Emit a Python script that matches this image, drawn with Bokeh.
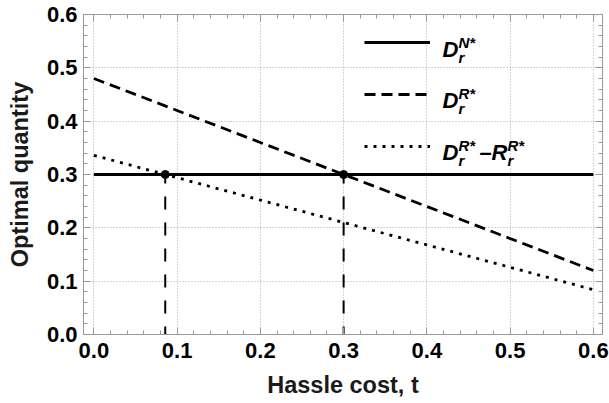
from bokeh.plotting import figure
from bokeh.models import (Range1d, FixedTicker, LinearAxis, Legend, LegendItem,
                          Label, CustomJSTickFormatter)
from bokeh.embed import file_html
from bokeh.resources import INLINE

# ---- data ----
t_vals = [0.0, 0.6]
d_N = [0.3, 0.3]            # D_r^{N*}
d_R = [0.48, 0.12]          # D_r^{R*}
d_R_minus_R = [0.336, 0.084]  # D_r^{R*} - R_r^{R*}
cross_t = [0.0857, 0.3]
cross_y = [0.3, 0.3]

x_ticks = [0.0, 0.1, 0.2, 0.3, 0.4, 0.5, 0.6]
x_tick_labels = ["0.0", "0.1", "0.2", "0.3", "0.4", "0.5", "0.6"]
y_ticks = [0.0, 0.1, 0.2, 0.3, 0.4, 0.5, 0.6]
y_tick_labels = ["0.0", "0.1", "0.2", "0.3", "0.4", "0.5", "0.6"]

FONT = "Liberation Sans"
AX = "#999999"

p = figure(width=609, height=403, output_backend="svg", toolbar_location=None,
           x_range=Range1d(-0.0125, 0.611), y_range=Range1d(0.0, 0.6),
           min_border_left=83, min_border_right=7, min_border_top=14, min_border_bottom=69,
           x_axis_label="Hassle cost, t", y_axis_label="Optimal quantity")
p.outline_line_color = AX
p.background_fill_color = "white"

minor_x = [round(i * 0.02, 2) for i in range(0, 31)]
minor_y = [round(i * 0.02, 2) for i in range(0, 31)]

for ax, ticks, labels, minor in ((p.xaxis[0], x_ticks, x_tick_labels, minor_x),
                                 (p.yaxis[0], y_ticks, y_tick_labels, minor_y)):
    ax.ticker = FixedTicker(ticks=ticks, minor_ticks=minor)
    ax.major_label_overrides = {v: s for v, s in zip(ticks, labels)}
    ax.axis_line_color = AX
    ax.major_tick_line_color = AX
    ax.minor_tick_line_color = AX
    ax.major_tick_in = 7
    ax.major_tick_out = 0
    ax.minor_tick_in = 4
    ax.minor_tick_out = 0
    ax.major_label_text_font = FONT
    ax.major_label_text_font_style = "bold"
    ax.major_label_text_font_size = "22px"
    ax.major_label_text_color = "black"
    ax.axis_label_text_font = FONT
    ax.axis_label_text_font_style = "bold"
    ax.axis_label_text_font_size = "23.5px"
    ax.axis_label_text_color = "#1a1a1a"

p.xaxis.major_label_standoff = 8
p.xaxis.axis_label_standoff = 11
p.yaxis.major_label_standoff = 6
p.yaxis.axis_label_standoff = 11

for loc, ticks, minor in (("above", x_ticks, minor_x), ("right", y_ticks, minor_y)):
    a = LinearAxis(ticker=FixedTicker(ticks=ticks, minor_ticks=minor),
                   formatter=CustomJSTickFormatter(code="return ''"),
                   axis_line_color=AX, major_tick_line_color=AX, minor_tick_line_color=AX,
                   major_tick_in=7, major_tick_out=0, minor_tick_in=4, minor_tick_out=0,
                   major_label_standoff=0)
    p.add_layout(a, loc)

p.xgrid.ticker = FixedTicker(ticks=x_ticks)
p.ygrid.ticker = FixedTicker(ticks=y_ticks)
for g in (p.xgrid[0], p.ygrid[0]):
    g.grid_line_color = "#aaaaaa"
    g.grid_line_dash = "1 2"
    g.grid_line_width = 1

# vertical guide lines
for tx, ty in zip(cross_t, cross_y):
    p.line([tx, tx], [ty, 0.0], line_color="black", line_width=2, line_dash="13 13",
           line_dash_offset=4)

rN = p.line(t_vals, d_N, line_color="black", line_width=3)
rR = p.line(t_vals, d_R, line_color="black", line_width=2.8, line_dash="11 6")
rD = p.line(t_vals, d_R_minus_R, line_color="black", line_width=2.8, line_dash="3 6")

p.scatter(cross_t, cross_y, size=8, color="black")

legend = Legend(items=[LegendItem(label=" ", renderers=[rN]),
                       LegendItem(label=" ", renderers=[rR]),
                       LegendItem(label=" ", renderers=[rD])],
                location=(281, 168), glyph_width=66, glyph_height=40, spacing=12,
                padding=0, margin=0, border_line_alpha=0, background_fill_alpha=0,
                label_text_font_size="1px", label_standoff=0, label_width=0)
p.add_layout(legend)

# legend text composed of pieces (screen coords relative to frame bottom-left)
FL, FB = 83, 334


def piece(text, sx, sy, size, style="bold italic"):
    p.add_layout(Label(x=sx - FL, y=FB - sy, x_units="screen", y_units="screen",
                       text=text, text_font=FONT, text_font_style=style,
                       text_font_size=size, text_baseline="alphabetic",
                       text_align="left", text_color="black"))


BIG, SMALL = "22px", "15px"
for base, sup in ((49, "N*"), (100, "R*"), (152, "R*")):
    piece("D", 442, base, BIG)
    piece(sup, 458, base - 7, SMALL)
    piece("r", 458, base + 8, SMALL)
piece("\u2013", 479, 152, BIG)
piece("R", 491, 152, BIG)
piece("R*", 507, 145, SMALL)
piece("r", 507, 160, SMALL)

open("out.html", "w").write(file_html(p, INLINE))
